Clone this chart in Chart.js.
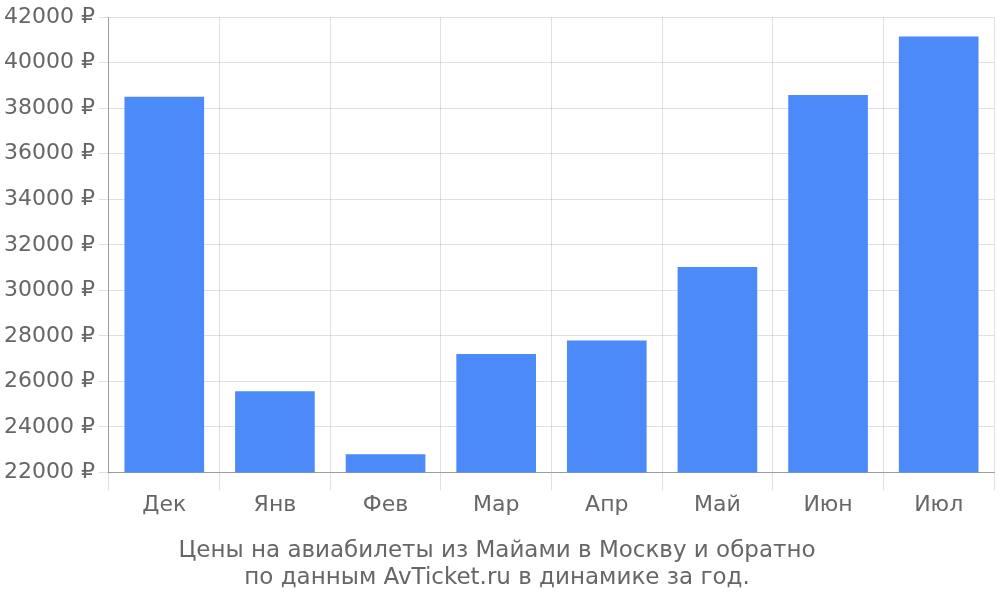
<!DOCTYPE html>
<html><head><meta charset="utf-8">
<script src="https://cdn.jsdelivr.net/npm/chart.js@4"></script>
<style>body{margin:0}#wrap{width:1000px;height:600px}</style>
</head><body><div id="wrap"><canvas id="c"></canvas></div>
<script>
const months = ["Дек", "Янв", "Фев", "Мар", "Апр", "Май", "Июн", "Июл"];
const prices = [38500, 25570, 22800, 27200, 27800, 31020, 38580, 41150];
const titleLines = ["Цены на авиабилеты из Майами в Москву и обратно", "по данным AvTicket.ru в динамике за год."];

Chart.defaults.font.family = "DejaVu Sans";
Chart.defaults.color = "#666";
new Chart(document.getElementById("c"), {
    type: "bar",
    data: {
        labels: months,
        datasets: [{
            data: prices,
            backgroundColor: "#4d8af9",
            categoryPercentage: 1,
            barPercentage: 0.72
        }]
    },
    options: {
        responsive: true,
        maintainAspectRatio: false,
        animation: false,
        layout: {padding: {right: 6, top: 2}},
        plugins: {
            legend: {display: false},
            tooltip: {enabled: false},
            title: {display: true, position: "bottom", text: titleLines, font: {size: 23, weight: "normal"}, padding: {top: 16, bottom: 8}, lineHeight: 1.2}
        },
        scales: {
            x: {
                border: {color: "rgba(0,0,0,0.3)"},
                grid: {offset: true, tickLength: 18, color: "rgba(0,0,0,0.12)"},
                ticks: {font: {size: 22}, padding: 2}
            },
            y: {
                min: 22000, max: 42000,
                border: {color: "rgba(0,0,0,0.3)"},
                grid: {tickLength: 10, color: "rgba(0,0,0,0.12)"},
                ticks: {stepSize: 2000, font: {size: 22}, padding: 4, callback: v => v + " ₽"}
            }
        }
    }
});
</script></body></html>
